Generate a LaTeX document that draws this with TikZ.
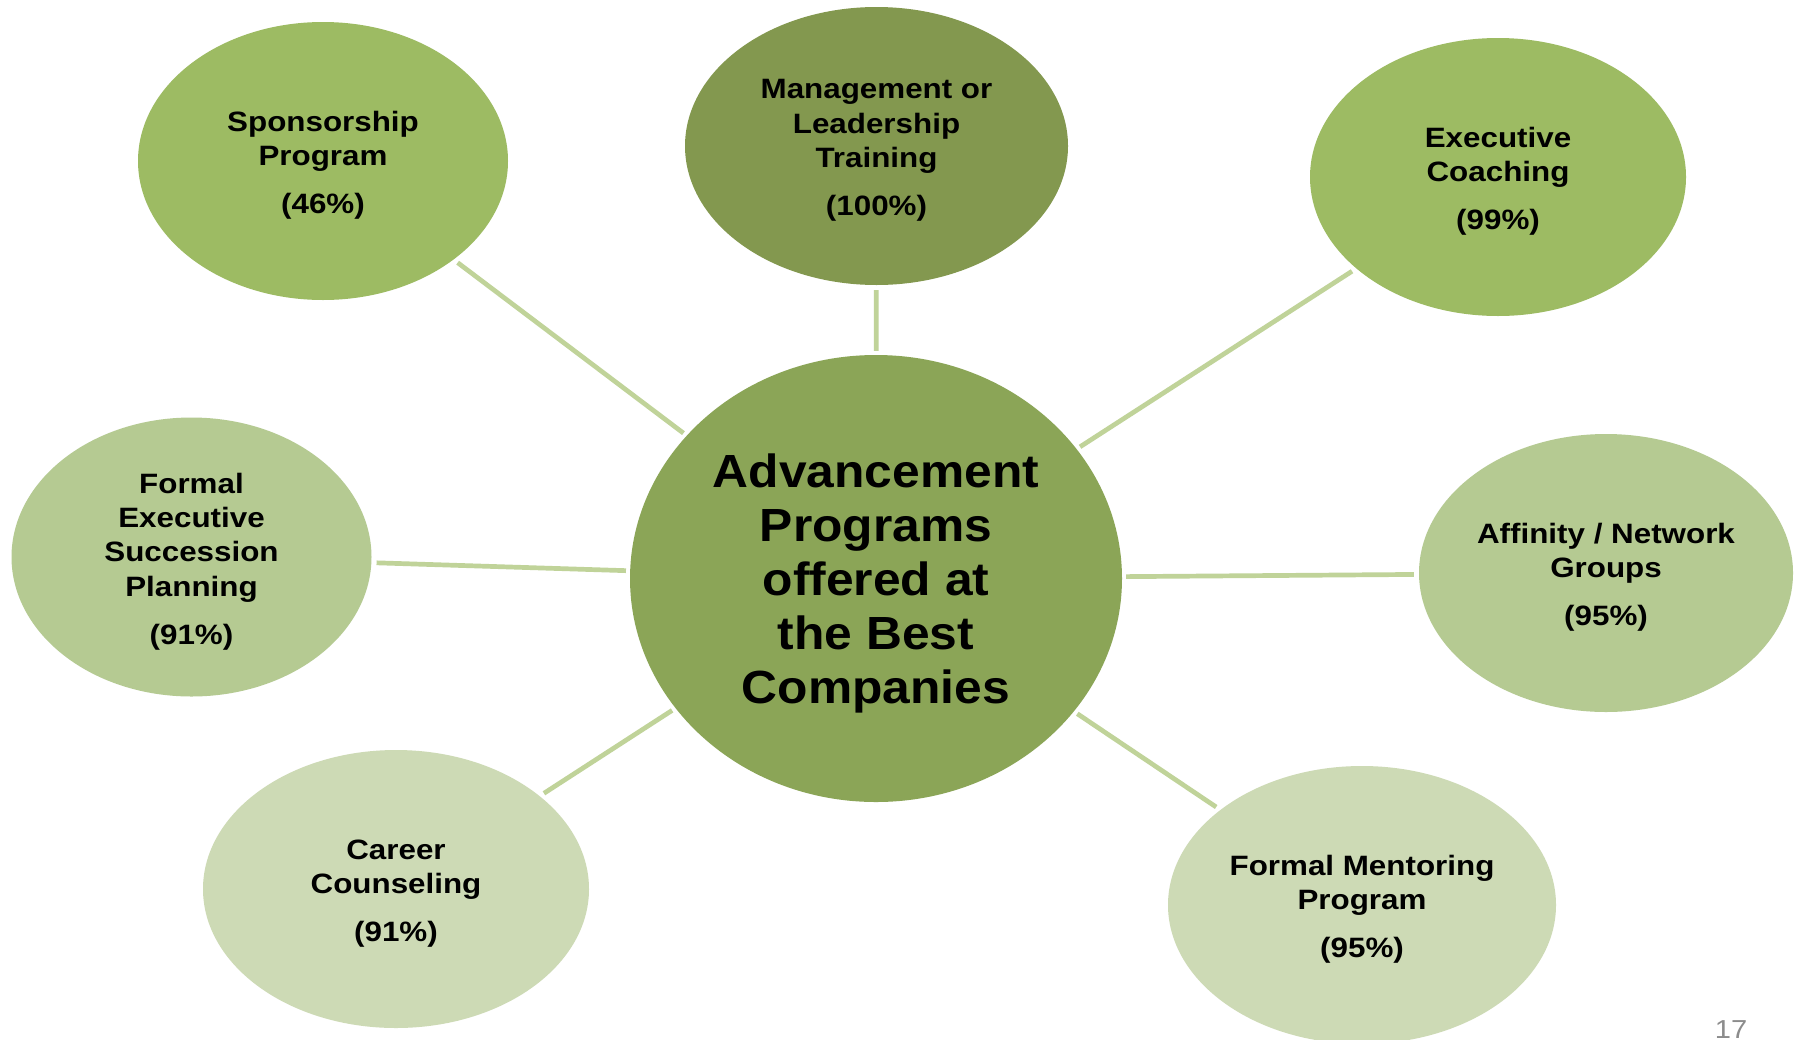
\documentclass[tikz,border=0pt]{standalone}
\usepackage{fontspec}
\setmainfont{Liberation Sans}
\newfontfamily\satfont[FakeStretch=1.12]{Liberation Sans}
\newfontfamily\cenfont[FakeStretch=1.07]{Liberation Sans}
\usetikzlibrary{shapes.geometric}
\definecolor{cCenter}{RGB}{139,165,87}
\definecolor{cDark}{RGB}{131,152,79}
\definecolor{cMid}{RGB}{157,187,99}
\definecolor{cLight}{RGB}{181,202,146}
\definecolor{cPale}{RGB}{205,218,181}
\definecolor{cLine}{RGB}{192,211,153}
\definecolor{cNum}{RGB}{140,140,140}
\tikzset{
  bubble/.style={ellipse, inner sep=0pt},
  btext/.style={inner sep=0pt, align=center, text=black,
    font=\satfont\bfseries\fontsize{28}{34.3}\selectfont},
  hub/.style={ellipse, inner sep=0pt, fill=cCenter,
    minimum width=492pt, minimum height=447pt},
  htext/.style={inner sep=0pt, align=center, text=black,
    font=\cenfont\bfseries\fontsize{46.5}{54}\selectfont},
  spoke/.style={draw=cLine, line width=4.7pt, shorten <=5pt, shorten >=4pt},
}
\begin{document}
\begin{tikzpicture}[x=1pt,y=-1pt]
\clip (0,0) rectangle (1795,1039);
\fill[white] (0,0) rectangle (1795,1039);

\node[hub] (hub) at (876,578.5) {};
\node[htext] (hub-t) at ([yshift=-4.5pt]hub.center) {Advancement\\Programs\\offered at\\the Best\\Companies};

\node[bubble, fill=cMid, minimum width=370pt, minimum height=278pt] (spon) at (323,161) {};
\node[btext] (spon-t) at ([yshift=-4.5pt]spon.center) {Sponsorship\\Program\\[13.7pt](46\%)};
\node[bubble, fill=cDark, minimum width=383pt, minimum height=278pt] (mgmt) at (876.5,146) {};
\node[btext] (mgmt-t) at ([yshift=-4.5pt]mgmt.center) {Management or\\Leadership\\Training\\[13.7pt](100\%)};
\node[bubble, fill=cMid, minimum width=376pt, minimum height=278pt] (exec) at (1498,177) {};
\node[btext] (exec-t) at ([yshift=-4.5pt]exec.center) {Executive\\Coaching\\[13.7pt](99\%)};
\node[bubble, fill=cLight, minimum width=360pt, minimum height=279pt] (succ) at (191.5,557) {};
\node[btext] (succ-t) at ([yshift=-4.5pt]succ.center) {Formal\\Executive\\Succession\\Planning\\[13.7pt](91\%)};
\node[bubble, fill=cLight, minimum width=374pt, minimum height=278pt] (aff) at (1606,573) {};
\node[btext] (aff-t) at ([yshift=-4.5pt]aff.center) {Affinity / Network\\Groups\\[13.7pt](95\%)};
\node[bubble, fill=cPale, minimum width=386pt, minimum height=278pt] (car) at (396,889) {};
\node[btext] (car-t) at ([yshift=-4.5pt]car.center) {Career\\Counseling\\[13.7pt](91\%)};
\node[bubble, fill=cPale, minimum width=388pt, minimum height=278pt] (ment) at (1362,905) {};
\node[btext] (ment-t) at ([yshift=-4.5pt]ment.center) {Formal Mentoring\\Program\\[13.7pt](95\%)};

\draw[spoke] (spon) -- (hub);
\draw[spoke] (mgmt) -- (hub);
\draw[spoke] (exec) -- (hub);
\draw[spoke] (succ) -- (hub);
\draw[spoke] (aff) -- (hub);
\draw[spoke] (car) -- (hub);
\draw[spoke] (ment) -- (hub);

\node[anchor=base, inner sep=0pt, text=cNum, font=\satfont\fontsize{26}{30}\selectfont] (pg) at (1731,1038) {17};
\end{tikzpicture}
\end{document}
